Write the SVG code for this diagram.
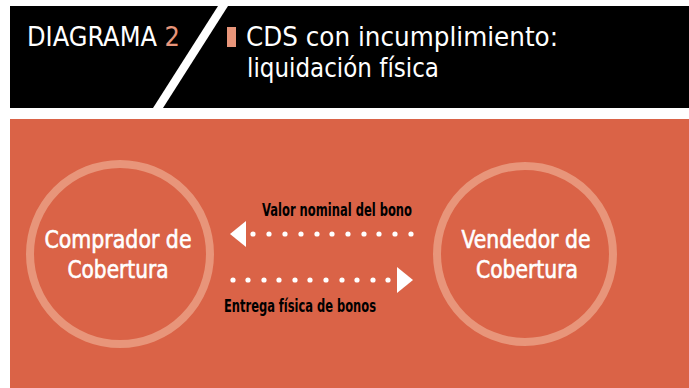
<svg xmlns="http://www.w3.org/2000/svg" width="689" height="388" viewBox="0 0 689 388">
<style>
.hd{font-family:"DejaVu Sans Condensed","DejaVu Sans","Liberation Sans",sans-serif;fill:#fff;font-size:26px}
.node-t{font-family:"DejaVu Sans Condensed","DejaVu Sans","Liberation Sans",sans-serif;fill:#fff;stroke:#fff;stroke-width:0.6;font-size:25px;text-anchor:middle}
.lbl{font-family:"DejaVu Sans Condensed","DejaVu Sans","Liberation Sans",sans-serif;fill:#000;font-size:17px;font-weight:bold}
.ring{fill:none;stroke:#E8957A;stroke-width:8}
.dot{fill:#fff}
</style>
<rect x="0" y="0" width="689" height="388" fill="#fff"/>
<g id="header">
<rect x="10" y="6" width="679" height="102" fill="#000"/>
<polygon points="218,6 228,6 163,108 153,108" fill="#fff"/>
<text class="hd" x="27" y="46" font-size="24" textLength="153" lengthAdjust="spacingAndGlyphs">DIAGRAMA <tspan fill="#E8957A">2</tspan></text>
<rect x="227" y="27" width="9" height="20" fill="#E8957A"/>
<text class="hd" x="246" y="46" textLength="312" lengthAdjust="spacingAndGlyphs">CDS con incumplimiento:</text>
<text class="hd" x="247" y="77" textLength="192" lengthAdjust="spacingAndGlyphs">liquidación física</text>
</g>
<rect x="10" y="119" width="679" height="269" fill="#DA6347"/>
<g id="comprador">
<circle class="ring" cx="120" cy="254" r="90"/>
<text class="node-t" x="118" y="248" textLength="147" lengthAdjust="spacingAndGlyphs">Comprador de</text>
<text class="node-t" x="118" y="278" textLength="101" lengthAdjust="spacingAndGlyphs">Cobertura</text>
</g>
<g id="vendedor">
<circle class="ring" cx="525" cy="254" r="88"/>
<text class="node-t" x="526" y="248" textLength="129" lengthAdjust="spacingAndGlyphs">Vendedor de</text>
<text class="node-t" x="527" y="278" textLength="102" lengthAdjust="spacingAndGlyphs">Cobertura</text>
</g>
<g id="connectors">
<g id="c1">
<polygon points="230,234 246,221 246,247" fill="#fff"/>
<g class="dot">
<circle cx="253" cy="234" r="2.6"/><circle cx="269" cy="234" r="2.6"/><circle cx="285" cy="234" r="2.6"/><circle cx="301" cy="234" r="2.6"/><circle cx="317" cy="234" r="2.6"/><circle cx="332" cy="234" r="2.6"/><circle cx="348" cy="234" r="2.6"/><circle cx="364" cy="234" r="2.6"/><circle cx="379" cy="234" r="2.6"/><circle cx="395" cy="234" r="2.6"/><circle cx="411" cy="234" r="2.6"/>
</g>
<text class="lbl" x="262" y="216" textLength="150" lengthAdjust="spacingAndGlyphs">Valor nominal del bono</text>
</g>
<g id="c2">
<polygon points="413,280 397,267 397,293" fill="#fff"/>
<g class="dot">
<circle cx="233" cy="280" r="2.6"/><circle cx="248" cy="280" r="2.6"/><circle cx="264" cy="280" r="2.6"/><circle cx="279" cy="280" r="2.6"/><circle cx="295" cy="280" r="2.6"/><circle cx="310" cy="280" r="2.6"/><circle cx="326" cy="280" r="2.6"/><circle cx="342" cy="280" r="2.6"/><circle cx="357" cy="280" r="2.6"/><circle cx="373" cy="280" r="2.6"/><circle cx="388" cy="280" r="2.6"/>
</g>
<text class="lbl" x="224" y="312" textLength="152" lengthAdjust="spacingAndGlyphs">Entrega física de bonos</text>
</g>
</g>
</svg>
